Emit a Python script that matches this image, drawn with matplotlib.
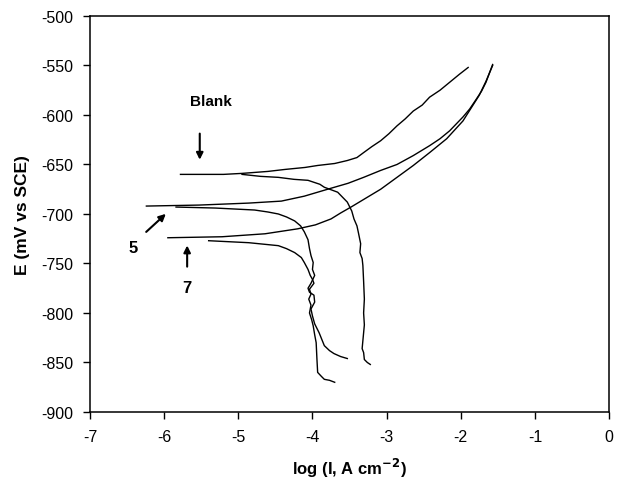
import matplotlib
matplotlib.use("Agg")
import matplotlib.pyplot as plt

plt.rcParams['font.family'] = ['Liberation Sans', 'DejaVu Sans']
plt.rcParams['axes.unicode_minus'] = False

# Blank
blank_an_x = [-5.78, -5.20, -4.95, -4.60, -4.37, -4.10, -3.93, -3.70, -3.53, -3.40, -3.31, -3.20, -3.08, -2.97, -2.86, -2.75, -2.64, -2.52, -2.42, -2.28, -2.15, -2.02, -1.90]
blank_an_y = [-660, -660, -659, -657, -655, -653, -651, -649, -646, -643, -638, -632, -626, -619, -611, -604, -596, -590, -582, -575, -567, -559, -552]
blank_ca_x = [-4.95, -4.70, -4.46, -4.25, -4.06, -3.90, -3.84, -3.66, -3.53, -3.47, -3.44, -3.40, -3.38, -3.35, -3.36, -3.33, -3.32, -3.31, -3.30, -3.31, -3.30, -3.31, -3.33, -3.31, -3.30, -3.26, -3.22]
blank_ca_y = [-660, -662, -663, -665, -666, -670, -673, -678, -688, -697, -705, -712, -719, -730, -739, -745, -752, -768, -786, -800, -812, -820, -836, -840, -847, -850, -852]

# Curve 5
c5_an_x = [-6.24, -5.53, -4.86, -4.42, -4.11, -3.75, -3.52, -3.31, -3.08, -2.86, -2.64, -2.42, -2.28, -2.15, -2.06, -1.97, -1.88, -1.79, -1.72, -1.66, -1.61, -1.57]
c5_an_y = [-692, -691, -689, -687, -682, -674, -669, -663, -656, -650, -641, -631, -624, -616, -609, -602, -594, -584, -576, -567, -557, -549]
c5_ca_x = [-5.84, -5.31, -4.78, -4.60, -4.46, -4.35, -4.24, -4.16, -4.11, -4.06, -4.04, -4.02, -3.99, -4.00, -3.97, -4.02, -4.06, -4.04, -3.98, -3.97, -4.02, -4.00, -3.97, -3.91, -3.84, -3.77, -3.71, -3.62, -3.53]
c5_ca_y = [-693, -694, -696, -698, -700, -703, -707, -712, -718, -726, -735, -742, -749, -756, -762, -770, -775, -779, -782, -789, -796, -803, -811, -820, -833, -838, -841, -844, -846]

# Curve 7
c7_an_x = [-5.95, -5.22, -4.64, -4.20, -3.96, -3.75, -3.62, -3.48, -3.28, -3.08, -2.86, -2.64, -2.42, -2.19, -2.08, -1.97, -1.86, -1.75, -1.66, -1.57]
c7_an_y = [-724, -723, -720, -715, -711, -705, -699, -693, -684, -675, -663, -651, -638, -624, -615, -606, -593, -580, -566, -550]
c7_ca_x = [-5.40, -4.86, -4.46, -4.35, -4.24, -4.15, -4.11, -4.06, -4.03, -4.00, -3.98, -4.04, -4.02, -4.05, -4.02, -4.04, -4.01, -3.99, -3.97, -3.95, -3.94, -3.93, -3.88, -3.84, -3.77, -3.70]
c7_ca_y = [-727, -729, -732, -735, -739, -744, -749, -756, -762, -766, -770, -776, -781, -786, -792, -800, -807, -813, -822, -830, -846, -860, -864, -867, -868, -870]

xticks = [-7, -6, -5, -4, -3, -2, -1, 0]
yticks = [-500, -550, -600, -650, -700, -750, -800, -850, -900]

fig = plt.figure(figsize=(6.17, 4.81), dpi=100)
ax = fig.add_axes([0.1459, 0.1414, 0.8412, 0.8233])

for xs, ys in [(blank_an_x, blank_an_y), (blank_ca_x, blank_ca_y),
               (c5_an_x, c5_an_y), (c5_ca_x, c5_ca_y),
               (c7_an_x, c7_an_y), (c7_ca_x, c7_ca_y)]:
    ax.plot(xs, ys, color='black', lw=1.0)

ax.set_xlim(-7, 0)
ax.set_ylim(-900, -500)
ax.set_xticks(xticks)
ax.set_yticks(yticks)
ax.tick_params(direction='out', length=5, width=1, labelsize=11.5, pad=7)
for s in ax.spines.values():
    s.set_linewidth(1.1)

ax.set_xlabel('log (I, A cm$^{\\mathbf{-2}}$)', fontsize=12, fontweight='bold', labelpad=9)
ax.set_ylabel('E (mV vs SCE)', fontsize=12.5, fontweight='bold', labelpad=8)

ax.text(-5.37, -586, 'Blank', fontsize=11, fontweight='bold', ha='center', va='center')
ax.annotate('', xy=(-5.52, -648), xytext=(-5.52, -616),
            arrowprops=dict(arrowstyle='-|>', color='black', lw=1.5, mutation_scale=10))
ax.text(-6.42, -734, '5', fontsize=12, fontweight='bold', ha='center', va='center')
ax.annotate('', xy=(-5.95, -698), xytext=(-6.27, -720),
            arrowprops=dict(arrowstyle='-|>', color='black', lw=1.5, mutation_scale=10))
ax.text(-5.69, -774, '7', fontsize=12, fontweight='bold', ha='center', va='center')
ax.annotate('', xy=(-5.69, -729), xytext=(-5.69, -756),
            arrowprops=dict(arrowstyle='-|>', color='black', lw=1.5, mutation_scale=10))

fig.savefig('out.png', dpi=100)
